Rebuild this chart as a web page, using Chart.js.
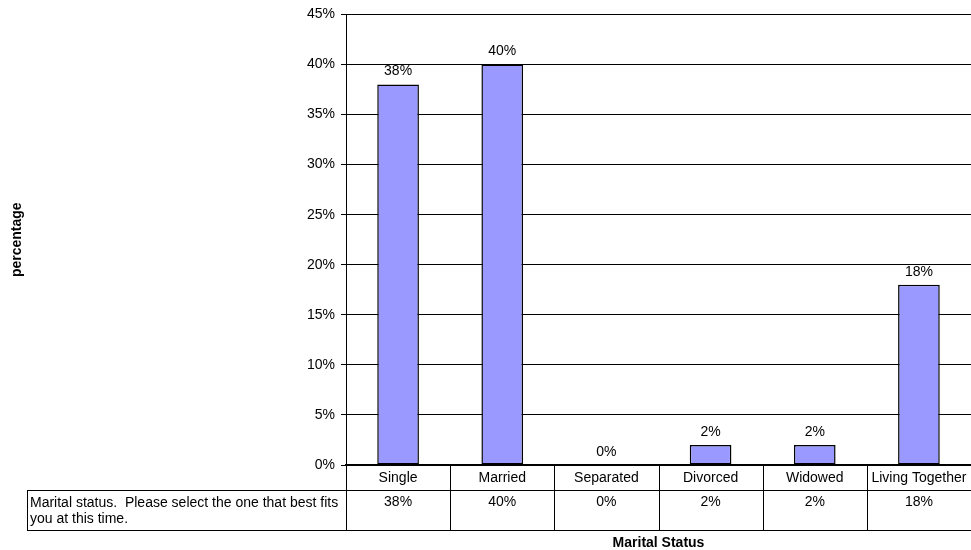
<!DOCTYPE html>
<html>
<head>
<meta charset="utf-8">
<script src="https://cdn.jsdelivr.net/npm/chart.js@4/dist/chart.umd.min.js"></script>
<style>
  html, body { margin: 0; padding: 0; background: #fff; }
  #wrap { width: 971px; height: 550px; position: relative; }
</style>
</head>
<body>
<div id="wrap"><canvas id="c" width="971" height="550"></canvas></div>
<script>
const categories = ["Single", "Married", "Separated", "Divorced", "Widowed", "Living Together"];
const values = [38, 40, 0, 2, 2, 18];
const valueLabels = ["38%", "40%", "0%", "2%", "2%", "18%"];
const rowLabel = ["Marital status.  Please select the one that best fits", "you at this time."];
const yTicks = [0, 5, 10, 15, 20, 25, 30, 35, 40, 45];
const xTitle = "Marital Status";
const yTitle = "percentage";

const FONT = "'Liberation Sans', Arial, sans-serif";

const tablePlugin = {
  id: 'tablePlugin',
  afterDraw(chart) {
    const ctx = chart.ctx;
    const xs = chart.scales.x;
    const area = chart.chartArea;
    ctx.save();
    // data labels above bars
    ctx.font = "14px " + FONT;
    ctx.fillStyle = "#000";
    ctx.textAlign = "center";
    ctx.textBaseline = "bottom";
    const meta = chart.getDatasetMeta(0);
    meta.data.forEach((bar, i) => {
      ctx.fillText(valueLabels[i], bar.x, bar.y - 6);
    });
    // table
    const n = categories.length;
    const colW = (area.right - area.left) / n;
    const top = area.bottom;
    const row1 = top + 25;
    const row2 = top + 65;
    const leftX = 27;
    ctx.strokeStyle = "#000";
    ctx.lineWidth = 1;
    ctx.beginPath();
    ctx.moveTo(leftX, row1 + 0.5); ctx.lineTo(area.right, row1 + 0.5);
    ctx.moveTo(leftX, row2 + 0.5); ctx.lineTo(area.right, row2 + 0.5);
    ctx.moveTo(leftX + 0.5, row1); ctx.lineTo(leftX + 0.5, row2 + 1);
    for (let i = 0; i < n; i++) {
      const x = Math.round(area.left + i * colW) + 0.5;
      ctx.moveTo(x, top); ctx.lineTo(x, row2 + 1);
    }
    ctx.stroke();
    ctx.textBaseline = "middle";
    ctx.textAlign = "center";
    for (let i = 0; i < n; i++) {
      const cx = xs.getPixelForValue(i);
      ctx.fillText(categories[i], cx, top + 13);
      ctx.fillText(valueLabels[i], cx, row1 + 12);
    }
    ctx.textAlign = "left";
    ctx.fillText(rowLabel[0], leftX + 3, row1 + 13);
    ctx.fillText(rowLabel[1], leftX + 3, row1 + 29);
    ctx.restore();
  }
};

new Chart(document.getElementById('c'), {
  type: 'bar',
  data: {
    labels: categories,
    datasets: [{
      data: values,
      backgroundColor: '#9999FF',
      borderColor: '#000000',
      borderWidth: 1.5,
      borderSkipped: false,
      categoryPercentage: 1,
      barPercentage: 0.4
    }]
  },
  options: {
    responsive: false,
    animation: false,
    devicePixelRatio: 1,
    layout: { padding: { top: 13, left: 0, right: 0, bottom: 0 } },
    plugins: { legend: { display: false }, tooltip: { enabled: false } },
    scales: {
      x: {
        grid: { display: false },
        border: { display: true, color: '#000', width: 2 },
        ticks: { display: false },
        title: {
          display: true, text: xTitle, color: '#000',
          font: { family: FONT, size: 14, weight: 'bold', lineHeight: 1 },
          padding: { top: 0, bottom: 0 }
        },
        afterFit(scale) { scale.height = 85; }
      },
      y: {
        min: 0, max: 45,
        afterBuildTicks(scale) { scale.ticks = yTicks.map(v => ({ value: v })); },
        grid: { color: '#000', lineWidth: 1, tickLength: 5, drawTicks: true, tickColor: '#000' },
        border: { display: true, color: '#000', width: 1 },
        ticks: {
          color: '#000', padding: 6,
          font: { family: FONT, size: 14 },
          callback: v => v + '%'
        },
        title: {
          display: true, text: yTitle, color: '#000',
          font: { family: FONT, size: 14, weight: 'bold' },
          padding: { top: 9, bottom: 0 }
        },
        afterFit(scale) { scale.width = 346; }
      }
    }
  },
  plugins: [tablePlugin]
});
</script>
</body>
</html>
